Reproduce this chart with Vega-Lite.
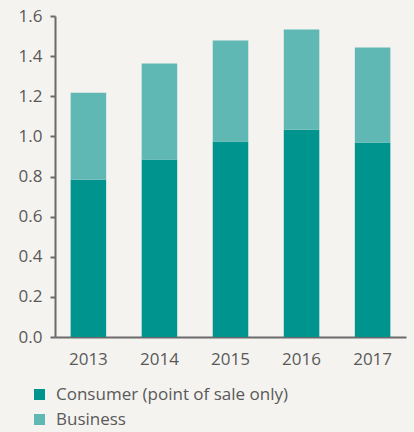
{
  "$schema": "https://vega.github.io/schema/vega-lite/v6.json",
  "autosize": {"type": "none"},
  "width": 351,
  "height": 321,
  "padding": {"left": 55, "top": 16, "right": 8, "bottom": 95},
  "background": "#f4f3ef",
  "config": {
    "view": {"stroke": null},
    "font": "Open Sans"
  },
  "data": {
    "values": [
      {"year": "2013", "series": "Consumer (point of sale only)", "value": 0.784},
      {"year": "2013", "series": "Business", "value": 0.434},
      {"year": "2014", "series": "Consumer (point of sale only)", "value": 0.885},
      {"year": "2014", "series": "Business", "value": 0.478},
      {"year": "2015", "series": "Consumer (point of sale only)", "value": 0.975},
      {"year": "2015", "series": "Business", "value": 0.503},
      {"year": "2016", "series": "Consumer (point of sale only)", "value": 1.033},
      {"year": "2016", "series": "Business", "value": 0.5},
      {"year": "2017", "series": "Consumer (point of sale only)", "value": 0.969},
      {"year": "2017", "series": "Business", "value": 0.474}
    ]
  },
  "mark": {"type": "bar"},
  "encoding": {
    "x": {
      "field": "year",
      "type": "nominal",
      "scale": {"paddingInner": 0.5, "paddingOuter": 0.22},
      "axis": {
        "title": null,
        "labelAngle": 0,
        "ticks": false,
        "labelPadding": 14,
        "labelFontSize": 17,
        "labelColor": "#595959",
        "domainColor": "#6b6b6b",
        "domainWidth": 2
      }
    },
    "y": {
      "field": "value",
      "type": "quantitative",
      "stack": "zero",
      "scale": {"domain": [0, 1.6], "nice": false},
      "axis": {
        "title": null,
        "values": [0, 0.2, 0.4, 0.6, 0.8, 1.0, 1.2, 1.4, 1.6],
        "format": ".1f",
        "grid": false,
        "tickSize": 5,
        "tickWidth": 2,
        "tickColor": "#6b6b6b",
        "domainColor": "#6b6b6b",
        "domainWidth": 2,
        "labelPadding": 8,
        "labelFontSize": 17,
        "labelColor": "#595959"
      }
    },
    "color": {
      "field": "series",
      "type": "nominal",
      "scale": {
        "domain": ["Consumer (point of sale only)", "Business"],
        "range": ["#00948f", "#60b8b5"]
      },
      "legend": {
        "title": null,
        "orient": "none",
        "legendX": -24,
        "legendY": 370,
        "symbolType": "square",
        "symbolSize": 121,
        "symbolStrokeWidth": 0,
        "symbolOpacity": 1,
        "labelFontSize": 17,
        "labelLimit": 0,
        "labelColor": "#595959",
        "labelOffset": 8,
        "rowPadding": 7
      }
    },
    "order": {"field": "series", "sort": "descending"}
  }
}
